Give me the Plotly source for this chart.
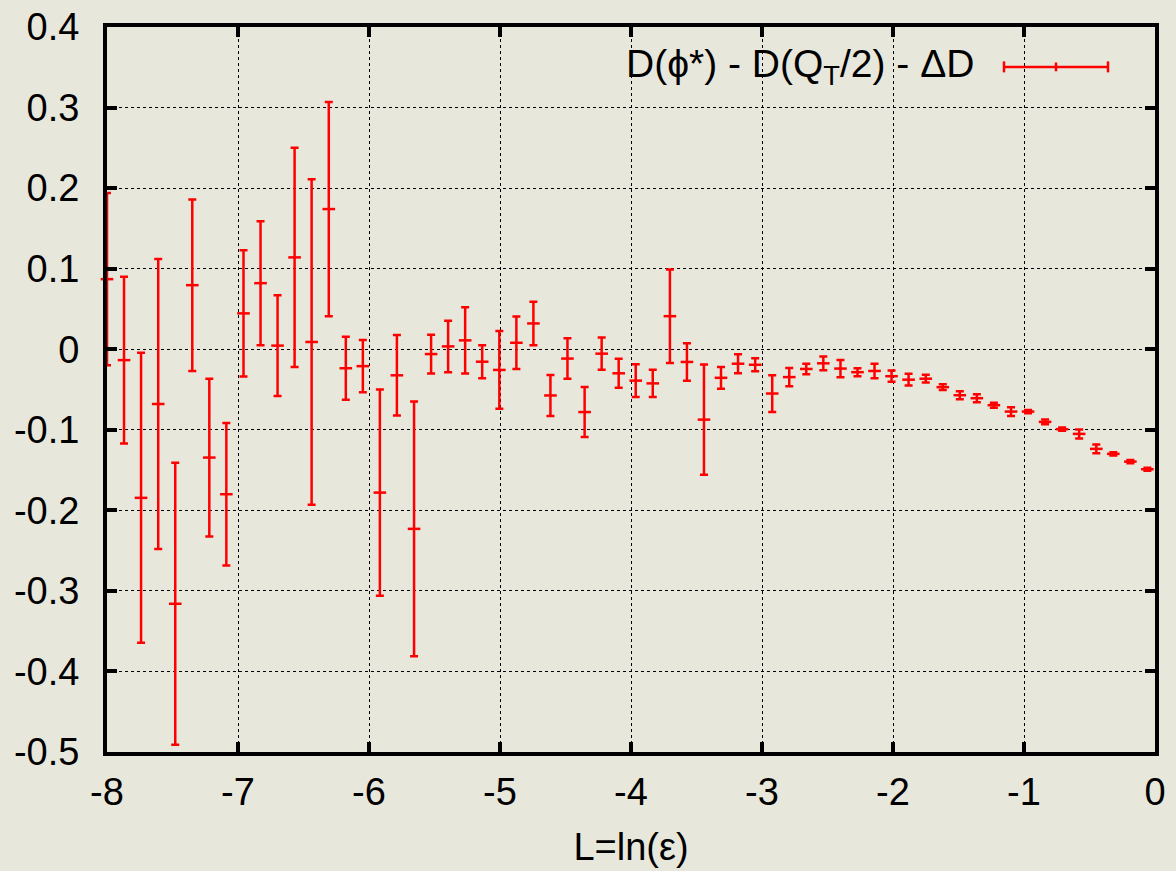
import plotly.graph_objects as go

# L = ln(epsilon) sample positions
L_values = [-8.000, -7.870, -7.740, -7.609, -7.479, -7.349, -7.219, -7.089, -6.958, -6.828,
            -6.698, -6.568, -6.438, -6.307, -6.177, -6.047, -5.917, -5.787, -5.656, -5.526,
            -5.396, -5.266, -5.136, -5.005, -4.875, -4.745, -4.615, -4.485, -4.354, -4.224,
            -4.094, -3.964, -3.834, -3.703, -3.573, -3.443, -3.313, -3.183, -3.052, -2.922,
            -2.792, -2.662, -2.532, -2.401, -2.271, -2.141, -2.011, -1.881, -1.750, -1.620,
            -1.490, -1.360, -1.230, -1.099, -0.969, -0.839, -0.709, -0.579, -0.448, -0.318,
            -0.188, -0.058]

# D(phi*) - D(QT/2) - DeltaD
D_values = [0.087, -0.0135, -0.1845, -0.068, -0.316, 0.0795, -0.1345, -0.180, 0.0445, 0.082,
            0.0045, 0.114, 0.009, 0.174, -0.0236, -0.021, -0.178, -0.0324, -0.223, -0.006,
            0.0035, 0.011, -0.0155, -0.0257, 0.008, 0.032, -0.0574, -0.0116, -0.078, -0.0055,
            -0.0299, -0.039, -0.0424, 0.041, -0.0158, -0.0874, -0.0355, -0.018, -0.0193, -0.055,
            -0.0346, -0.0245, -0.0175, -0.024, -0.0285, -0.027, -0.0335, -0.0378, -0.0366, -0.0471,
            -0.0571, -0.0608, -0.0695, -0.0774, -0.0774, -0.0902, -0.0993, -0.1051, -0.1237, -0.1299,
            -0.1395, -0.149]

D_errors = [0.107, 0.1035, 0.180, 0.180, 0.175, 0.1065, 0.098, 0.0885, 0.0785, 0.077,
            0.0625, 0.136, 0.202, 0.133, 0.039, 0.0325, 0.128, 0.050, 0.158, 0.024,
            0.032, 0.041, 0.0205, 0.0483, 0.0325, 0.027, 0.0254, 0.0252, 0.031, 0.020,
            0.018, 0.0203, 0.0168, 0.058, 0.0232, 0.0683, 0.0135, 0.0118, 0.008, 0.0228,
            0.0114, 0.0066, 0.0085, 0.0107, 0.005, 0.009, 0.007, 0.0073, 0.0048, 0.0035,
            0.005, 0.005, 0.003, 0.0054, 0.002, 0.003, 0.002, 0.0056, 0.0054, 0.002,
            0.002, 0.002]

x_ticks = [-8, -7, -6, -5, -4, -3, -2, -1, 0]
y_ticks = [-0.5, -0.4, -0.3, -0.2, -0.1, 0, 0.1, 0.2, 0.3, 0.4]
y_tick_labels = ["-0.5", "-0.4", "-0.3", "-0.2", "-0.1", "0", "0.1", "0.2", "0.3", "0.4"]
legend_label = "D(\u03d5*) - D(Q<sub>T</sub>/2) - \u0394D"

RED = "#ff0000"
BG = "#e8e7dc"
FONT = "Liberation Sans, Arial, sans-serif"

fig = go.Figure()
fig.add_trace(go.Scatter(
    x=L_values, y=D_values, mode="markers",
    marker=dict(symbol="line-ew", size=9, color=RED, line=dict(color=RED, width=2.5)),
    error_y=dict(type="data", array=D_errors, visible=True, color=RED, thickness=2.5, width=4),
    showlegend=False, cliponaxis=False,
))

axis_common = dict(
    showline=True, linecolor="black", linewidth=4, mirror="ticks",
    ticks="inside", ticklen=10, tickwidth=4, tickcolor="black",
    showgrid=True, gridcolor="black", gridwidth=1.2, griddash="dot",
    zeroline=False, tickfont=dict(family=FONT, size=38, color="black"),
)

fig.update_xaxes(range=[-8, 0], tickvals=x_ticks, ticktext=[str(v) for v in x_ticks],
                 title=dict(text="L=ln(\u03b5)", font=dict(family=FONT, size=38, color="black"), standoff=23),
                 ticklabelstandoff=3, **axis_common)
fig.update_yaxes(range=[-0.5, 0.4], tickvals=y_ticks, ticktext=y_tick_labels,
                 ticklabelstandoff=16, **axis_common)

# legend drawn as text + error-bar sample
px_w = 1048.0
px_h = 725.0
ly = 0.945
fig.add_annotation(x=(976 - 107) / px_w, y=ly, xref="paper", yref="paper", xanchor="right", yanchor="middle",
                   text=legend_label, showarrow=False,
                   font=dict(family=FONT, size=39, color="black"))
x0, x1 = (1004 - 107) / px_w, (1108 - 107) / px_w
xc = (x0 + x1) / 2
cap = 5.5 / px_h
fig.add_shape(type="line", xref="paper", yref="paper", x0=x0, x1=x1, y0=ly, y1=ly,
              line=dict(color=RED, width=2.5))
for xx, hh in [(x0, cap), (x1, cap), (xc, cap * 0.8)]:
    fig.add_shape(type="line", xref="paper", yref="paper", x0=xx, x1=xx, y0=ly - hh, y1=ly + hh,
                  line=dict(color=RED, width=2.5))

fig.update_layout(
    width=1176, height=871,
    margin=dict(l=107, r=21, t=27, b=119, autoexpand=False),
    paper_bgcolor=BG, plot_bgcolor=BG,
    font=dict(family=FONT, color="black"),
)

fig.write_html("out.html")
